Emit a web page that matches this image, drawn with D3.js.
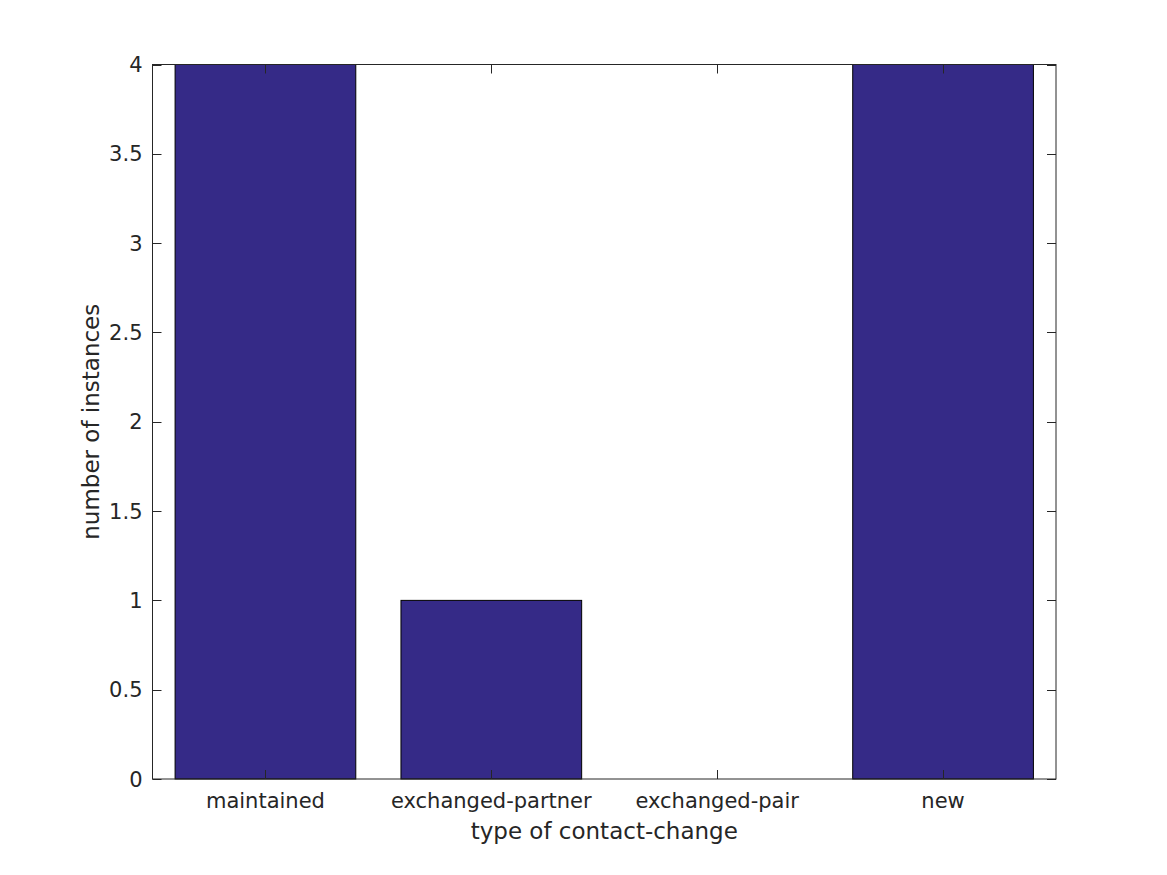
<!DOCTYPE html>
<html><head><meta charset="utf-8">
<script src="https://cdn.jsdelivr.net/npm/d3@7"></script>
<style>body{margin:0;background:#fff}text{font-family:"DejaVu Sans",sans-serif;fill:#262626}</style>
</head><body>
<svg id="c" width="1167" height="875"></svg>
<script>
const categories = ["maintained","exchanged-partner","exchanged-pair","new"];
const counts = [4, 1, 0, 4];
const yTicks = [0,0.5,1,1.5,2,2.5,3,3.5,4];
const yTickLabels = ["0","0.5","1","1.5","2","2.5","3","3.5","4"];

const svg = d3.select("#c");
const L=152.5, R=1056, T=64.5, B=779;
const x = d3.scaleLinear().domain([0.5, 4.5]).range([L, R]);
const y = d3.scaleLinear().domain([0, 4]).range([B, T]);
const barW = 0.8;
const ink = "#262626";

// bars
svg.append("g").selectAll("rect").data(counts).join("rect")
  .attr("x", (d,i)=>x(i+1-barW/2))
  .attr("width", (d,i)=>x(i+1+barW/2)-x(i+1-barW/2))
  .attr("y", d=>y(d))
  .attr("height", d=>y(0)-y(d))
  .attr("fill", "#352a87")
  .attr("stroke", "#000").attr("stroke-width", 1);

// box
const g = svg.append("g").attr("stroke", ink).attr("stroke-width",1).attr("fill","none");
g.append("rect").attr("x",L).attr("y",T).attr("width",R-L).attr("height",B-T);

const tl = 9;
yTicks.forEach(v=>{
  const yy = Math.round(y(v))+0.5;
  g.append("line").attr("x1",L).attr("x2",L+tl).attr("y1",yy).attr("y2",yy);
  g.append("line").attr("x1",R-tl).attr("x2",R).attr("y1",yy).attr("y2",yy);
});
categories.forEach((c,i)=>{
  const xx = Math.round(x(i+1))+0.5;
  g.append("line").attr("x1",xx).attr("x2",xx).attr("y1",B).attr("y2",B-tl);
  g.append("line").attr("x1",xx).attr("x2",xx).attr("y1",T).attr("y2",T+tl);
});

// tick labels
svg.append("g").selectAll("text").data(yTicks).join("text")
  .attr("x", L-10).attr("y", d=>y(d)).attr("dy","0.36em")
  .attr("text-anchor","end").attr("font-size",21)
  .text((d,i)=>yTickLabels[i]);
svg.append("g").selectAll("text").data(categories).join("text")
  .attr("x",(d,i)=>x(i+1)).attr("y",808)
  .attr("text-anchor","middle").attr("font-size",21)
  .text(d=>d);

// axis labels
svg.append("text").attr("x",(L+R)/2).attr("y",839).attr("text-anchor","middle")
  .attr("font-size",23).text("type of contact-change");
svg.append("text").attr("transform",`translate(99,${(T+B)/2}) rotate(-90)`)
  .attr("text-anchor","middle").attr("font-size",23).text("number of instances");
</script>
</body></html>
